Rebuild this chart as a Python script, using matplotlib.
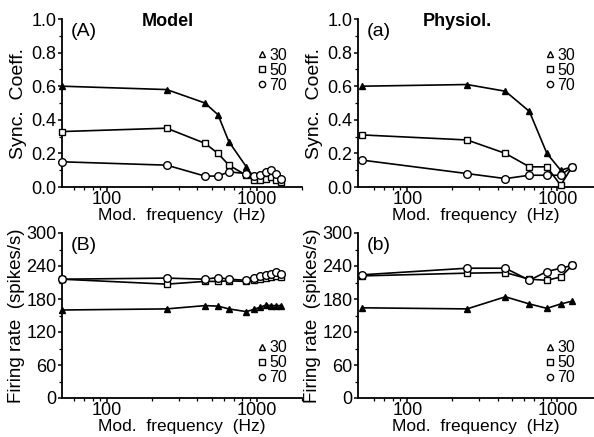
import numpy as np
import matplotlib
matplotlib.use('Agg')
import matplotlib.pyplot as plt
from matplotlib.lines import Line2D
from matplotlib.ticker import FixedLocator, NullFormatter, MultipleLocator

plt.rcParams['font.family'] = ['Liberation Sans', 'DejaVu Sans']

levels = ['30', '50', '70']

# Model (A, B)
model_freq = [50, 250, 450, 550, 650, 850, 950, 1050, 1150, 1250, 1350, 1450]
model_sync_30 = [0.60, 0.58, 0.50, 0.43, 0.27, 0.12, 0.06, 0.05, 0.07, 0.08, 0.06, 0.04]
model_sync_50 = [0.33, 0.35, 0.26, 0.20, 0.13, 0.07, 0.04, 0.04, 0.05, 0.06, 0.04, 0.03]
model_sync_70 = [0.15, 0.13, 0.065, 0.065, 0.09, 0.08, 0.065, 0.07, 0.09, 0.10, 0.08, 0.05]
model_rate_30 = [160, 162, 168, 167, 162, 157, 161, 165, 169, 168, 168, 168]
model_rate_50 = [216, 207, 212, 212, 213, 212, 214, 216, 218, 220, 221, 220]
model_rate_70 = [216, 218, 216, 219, 216, 214, 219, 222, 224, 225, 230, 226]

# Physiol (a, b)
phys_freq = [50, 250, 450, 650, 850, 1050, 1250]
phys_sync_30 = [0.60, 0.61, 0.57, 0.45, 0.20, 0.10, 0.12]
phys_sync_50 = [0.31, 0.28, 0.20, 0.12, 0.12, 0.01, 0.12]
phys_sync_70 = [0.16, 0.08, 0.05, 0.07, 0.07, 0.07, 0.12]
phys_rate_30 = [164, 162, 184, 171, 163, 171, 176]
phys_rate_50 = [222, 227, 228, 216, 214, 220, 241]
phys_rate_70 = [224, 236, 236, 214, 230, 236, 241]

styles = [dict(marker='^', mfc='black', ms=5),
          dict(marker='s', mfc='white', ms=5),
          dict(marker='o', mfc='white', ms=5.5)]

fig = plt.figure(figsize=(5.94, 4.37), dpi=100)

W, H = 594, 437
def box(l, r, t, b):
    return [l / W, 1 - b / H, (r - l) / W, (b - t) / H]

ax_A = fig.add_axes(box(62, 302, 19, 187))
ax_a = fig.add_axes(box(358, 594, 19, 187))
ax_B = fig.add_axes(box(62, 302, 233, 398))
ax_b = fig.add_axes(box(358, 594, 233, 398))


def draw(ax, freq, series):
    for vals, st in zip(series, styles):
        ax.plot(freq, vals, color='black', lw=1.2, mec='black', mew=1.0,
                clip_on=False, zorder=3, **st)


draw(ax_A, model_freq, [model_sync_30, model_sync_50, model_sync_70])
draw(ax_a, phys_freq, [phys_sync_30, phys_sync_50, phys_sync_70])
draw(ax_B, model_freq, [model_rate_30, model_rate_50, model_rate_70])
draw(ax_b, phys_freq, [phys_rate_30, phys_rate_50, phys_rate_70])


def style(ax, xlim, top, tag, title=None, title_x=0.44, leg_x=0.82, leg_y=0.83):
    ax.set_xscale('log')
    ax.set_xlim(*xlim)
    for s in ['top', 'right']:
        ax.spines[s].set_visible(False)
    for s in ['left', 'bottom']:
        ax.spines[s].set_linewidth(1.3)
    ax.xaxis.set_major_locator(FixedLocator([100, 1000]))
    ax.set_xticklabels(['100', '1000'])
    ax.xaxis.set_minor_locator(FixedLocator(
        [60, 70, 80, 90, 200, 300, 400, 500, 600, 700, 800, 900, 2000]))
    ax.xaxis.set_minor_formatter(NullFormatter())
    ax.tick_params(axis='both', which='major', direction='out', length=3,
                   width=1.1, labelsize=13, pad=1)
    ax.tick_params(axis='x', which='major', pad=0)
    ax.tick_params(axis='both', which='minor', direction='out', length=2,
                   width=0.9)
    ax.set_xlabel('Mod.  frequency  (Hz)', fontsize=12.5, labelpad=0)
    if top:
        ax.set_ylim(0, 1.0)
        ax.yaxis.set_major_locator(MultipleLocator(0.2))
        ax.yaxis.set_minor_locator(MultipleLocator(0.1))
        ax.set_yticklabels(['%.1f' % v for v in ax.get_yticks()])
        ax.set_ylabel('Sync.  Coeff.', fontsize=14, labelpad=3)
    else:
        ax.set_ylim(0, 300)
        ax.yaxis.set_major_locator(MultipleLocator(60))
        ax.yaxis.set_minor_locator(MultipleLocator(30))
        ax.set_ylabel('Firing rate  (spikes/s)', fontsize=13.5, labelpad=1)
    ax.text(0.035, 0.975, tag, transform=ax.transAxes, fontsize=14,
            va='top', ha='left')
    if title:
        ax.text(title_x, 0.985, title, transform=ax.transAxes, fontsize=13,
                fontweight='bold', va='center', ha='center')
    handles = [Line2D([], [], ls='none', color='black', mfc='white', mew=1.0,
                      marker=st['marker'], ms=4.5) for st in styles]
    ax.legend(handles, levels, loc='upper left', bbox_to_anchor=(leg_x, leg_y),
              frameon=False, fontsize=11.5, handlelength=0.4, handletextpad=0.25,
              labelspacing=0.0, borderpad=0, borderaxespad=0)


style(ax_A, (50, 2000), True, '(A)', 'Model', 0.44, 0.82, 0.83)
style(ax_a, (47, 1750), True, '(a)', 'Physiol.', 0.42, 0.80, 0.83)
style(ax_B, (50, 2000), False, '(B)', None, leg_x=0.82, leg_y=0.35)
style(ax_b, (47, 1750), False, '(b)', None, leg_x=0.80, leg_y=0.35)

fig.savefig('out.png', dpi=100)
